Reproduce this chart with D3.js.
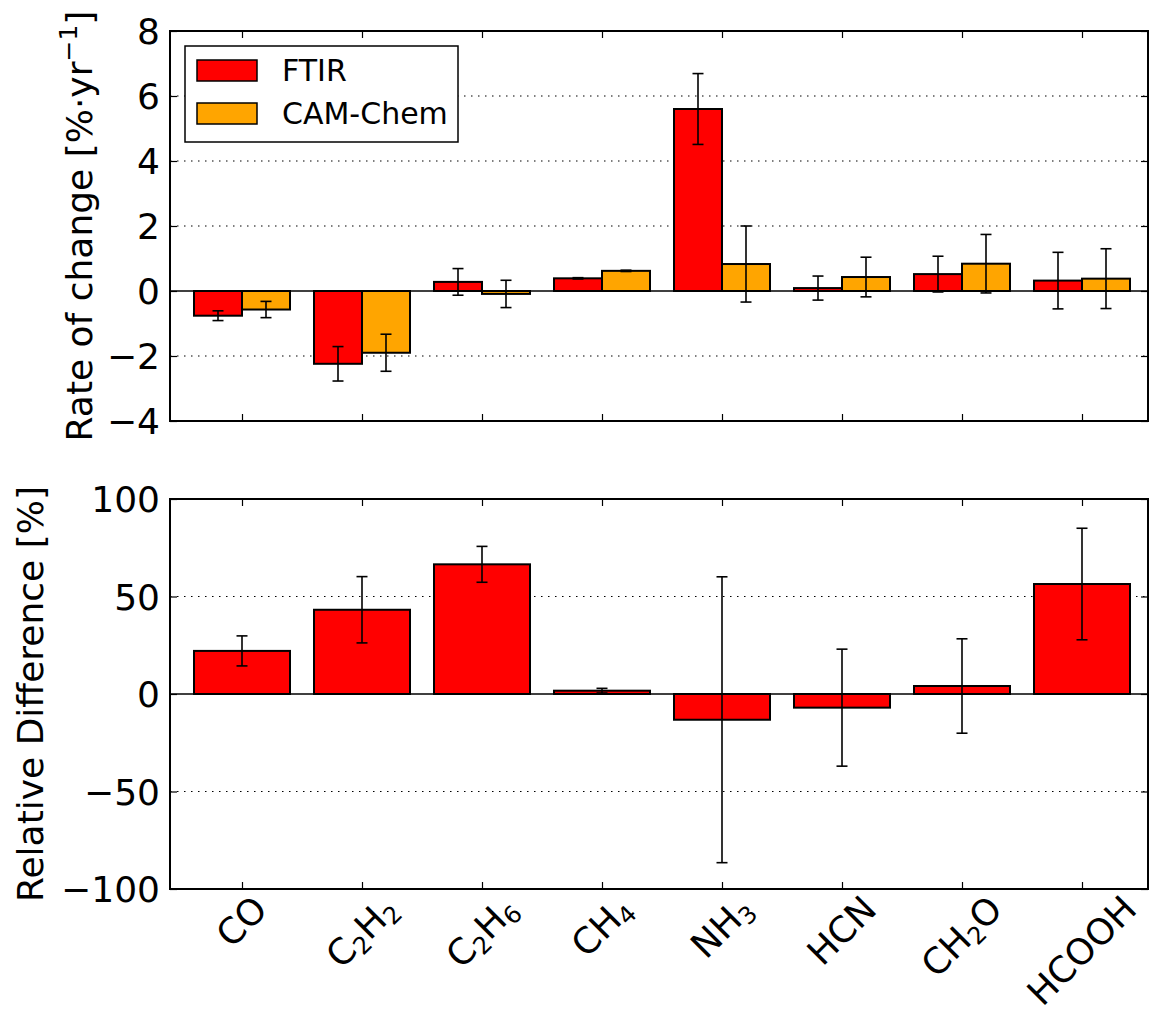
<!DOCTYPE html>
<html>
<head>
<meta charset="utf-8">
<script src="https://cdn.jsdelivr.net/npm/d3@7"></script>
<style>
  body { margin: 0; background: #fff; }
  text { font-family: "DejaVu Sans", sans-serif; }
</style>
</head>
<body>
<div id="chart"></div>
<script>
// species on the x axis (digits become subscripts)
const species = ["CO", "C2H2", "C2H6", "CH4", "NH3", "HCN", "CH2O", "HCOOH"];

// top panel: rate of change [%/yr]
const ftirRate = [-0.76, -2.24, 0.28, 0.39, 5.60, 0.09, 0.52, 0.32];
const ftirErr  = [0.15, 0.53, 0.41, 0.02, 1.09, 0.37, 0.55, 0.87];
const camRate  = [-0.57, -1.90, -0.09, 0.62, 0.83, 0.43, 0.84, 0.38];
const camErr   = [0.25, 0.57, 0.42, 0.02, 1.17, 0.61, 0.90, 0.92];

// bottom panel: relative difference [%]
const relDiff = [22.1, 43.2, 66.5, 1.7, -13.2, -7.0, 4.1, 56.4];
const relErr  = [7.7, 17.0, 9.2, 1.2, 73.3, 30.0, 24.2, 28.6];

const topTicks = [-4, -2, 0, 2, 4, 6, 8];
const botTicks = [-100, -50, 0, 50, 100];

const svgwidth = 1150, svgheight = 1013;
const left = 170, right = 1148;
const red = "#ff0000", orange = "#ffa500";

const svg = d3.select("#chart").append("svg")
  .attr("width", svgwidth)
  .attr("height", svgheight);

// shared x scale in category units
const x = d3.scaleLinear().domain([-0.6, 7.55]).range([left, right]);
const yTop = d3.scaleLinear().domain([-4, 8]).range([421, 31]);
const yBot = d3.scaleLinear().domain([-100, 100]).range([889, 499]);

function panel(y, ticks) {
  const g = svg.append("g");
  // dotted grid
  g.selectAll(".grid").data(ticks.filter(t => t !== 0 && t !== ticks[0] && t !== ticks[ticks.length - 1]))
    .enter().append("line")
    .attr("x1", left).attr("x2", right)
    .attr("y1", d => y(d)).attr("y2", d => y(d))
    .attr("stroke", "#000").attr("stroke-width", 1.2)
    .attr("stroke-dasharray", "1.5,5.5");
  // zero line
  g.append("line")
    .attr("x1", left).attr("x2", right)
    .attr("y1", y(0)).attr("y2", y(0))
    .attr("stroke", "#000").attr("stroke-width", 1.5);
  return g;
}

function bars(g, y, vals, errs, offset, width, color) {
  const data = vals.map((v, i) => ({ i, v, e: errs[i] }));
  g.append("g").selectAll("rect").data(data).enter().append("rect")
    .attr("x", d => x(d.i + offset))
    .attr("width", d => x(d.i + offset + width) - x(d.i + offset))
    .attr("y", d => y(Math.max(0, d.v)))
    .attr("height", d => Math.abs(y(d.v) - y(0)))
    .attr("fill", color)
    .attr("stroke", "#000").attr("stroke-width", 2);
  const eb = g.append("g").attr("stroke", "#000").attr("stroke-width", 1.6);
  data.forEach(d => {
    const cx = x(d.i + offset + width / 2);
    eb.append("line").attr("x1", cx).attr("x2", cx).attr("y1", y(d.v - d.e)).attr("y2", y(d.v + d.e));
    [d.v - d.e, d.v + d.e].forEach(t => {
      eb.append("line").attr("x1", cx - 5.5).attr("x2", cx + 5.5).attr("y1", y(t)).attr("y2", y(t));
    });
  });
}

function axes(y, ticks) {
  const [y1, y0] = y.range();
  const idx = d3.range(species.length);
  const g = svg.append("g");
  const la = g.append("g").attr("transform", `translate(${left},0)`)
    .call(d3.axisLeft(y).tickValues(ticks).tickSize(-7).tickPadding(10));
  g.append("g").attr("transform", `translate(${right},0)`)
    .call(d3.axisRight(y).tickValues(ticks).tickSize(-7).tickFormat(""));
  g.append("g").attr("transform", `translate(0,${y0})`)
    .call(d3.axisTop(x).tickValues(idx).tickSize(-7).tickFormat(""));
  g.append("g").attr("transform", `translate(0,${y1})`)
    .call(d3.axisBottom(x).tickValues(idx).tickSize(-7).tickFormat(""));
  g.selectAll(".domain").remove();
  g.selectAll(".tick line").attr("stroke", "#000").attr("stroke-width", 1.2);
  la.selectAll("text").attr("font-size", 36).attr("fill", "#000")
    .attr("font-family", "DejaVu Sans").attr("dy", "0.36em");
  g.append("rect")
    .attr("x", left).attr("y", y0)
    .attr("width", right - left).attr("height", y1 - y0)
    .attr("fill", "none").attr("stroke", "#000").attr("stroke-width", 2);
}

// top panel
const gTop = panel(yTop, topTicks);
bars(gTop, yTop, ftirRate, ftirErr, -0.4, 0.4, red);
bars(gTop, yTop, camRate, camErr, 0, 0.4, orange);
axes(yTop, topTicks);

// bottom panel
const gBot = panel(yBot, botTicks);
bars(gBot, yBot, relDiff, relErr, -0.4, 0.8, red);
axes(yBot, botTicks);

// y labels
const lt = svg.append("text")
  .attr("transform", "translate(92,226) rotate(-90)")
  .attr("text-anchor", "middle").attr("font-size", 36);
lt.append("tspan").text("Rate of change [%\u00b7yr");
lt.append("tspan").attr("font-size", 25).attr("dy", "-0.62em").text("\u22121");
lt.append("tspan").attr("dy", "0.43em").text("]");

svg.append("text")
  .attr("transform", "translate(43,694) rotate(-90)")
  .attr("text-anchor", "middle").attr("font-size", 36)
  .text("Relative Difference [%]");

// legend
const leg = svg.append("g");
leg.append("rect").attr("x", 185).attr("y", 46).attr("width", 273).attr("height", 96)
  .attr("fill", "#fff").attr("stroke", "#000").attr("stroke-width", 1.5);
[["FTIR", red, 70.5], ["CAM-Chem", orange, 113.5]].forEach(([name, c, cy]) => {
  leg.append("rect").attr("x", 197).attr("y", cy - 10.5).attr("width", 60).attr("height", 21)
    .attr("fill", c).attr("stroke", "#000").attr("stroke-width", 1.5);
  leg.append("text").attr("x", 282).attr("y", cy).attr("dy", "0.36em")
    .attr("font-size", 30).text(name);
});

// rotated x labels with subscripts
species.forEach((s, i) => {
  const t = svg.append("text").attr("text-anchor", "middle").attr("font-size", 36);
  const parts = s.match(/[A-Za-z]+|\d+/g);
  let sub = false;
  parts.forEach(p => {
    const ts = t.append("tspan").text(p);
    if (/\d/.test(p)) {
      ts.attr("font-size", 24).attr("dy", "0.24em");
      sub = true;
    } else if (sub) {
      ts.attr("dy", "-0.16em");
      sub = false;
    }
  });
  const w = t.node().getComputedTextLength();
  const h = 28;
  const cy = 893 + (w + h) / (2 * Math.SQRT2);
  t.attr("transform", `translate(${x(i)},${cy}) rotate(-45)`).attr("y", 12);
});
</script>
</body>
</html>
